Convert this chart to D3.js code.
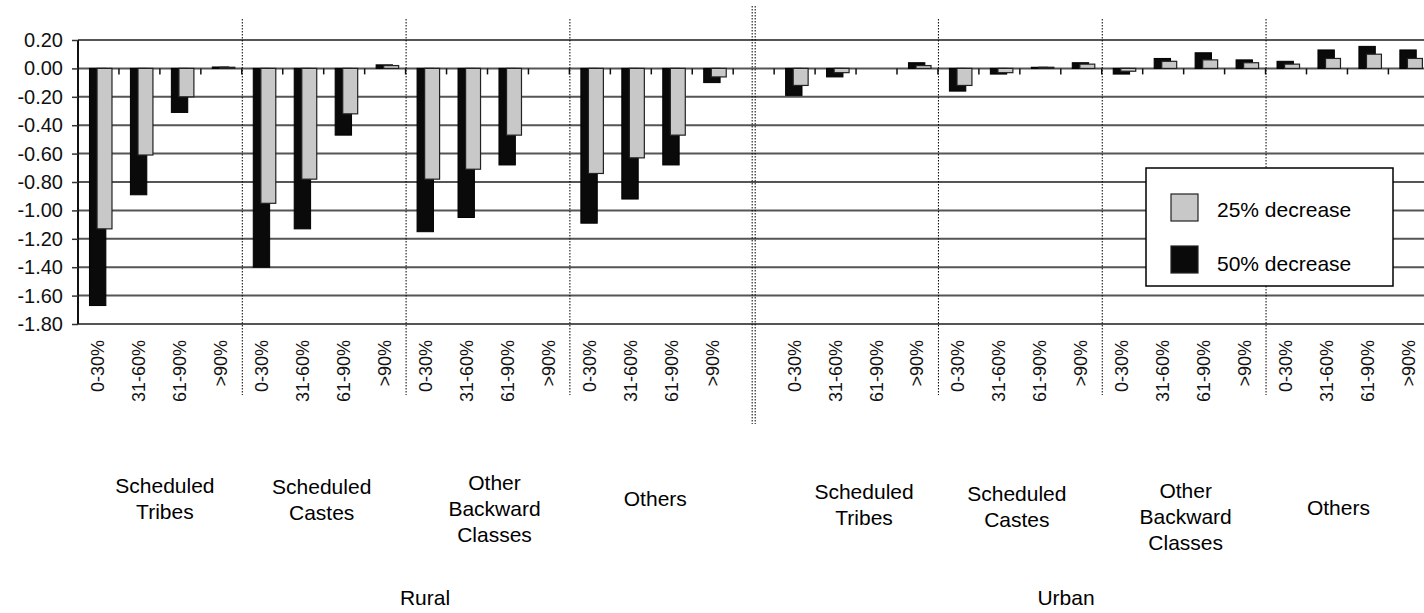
<!DOCTYPE html>
<html>
<head>
<meta charset="utf-8">
<script src="https://cdn.jsdelivr.net/npm/d3@7/dist/d3.min.js"></script>
<style>
  html, body { margin: 0; padding: 0; background: #ffffff; }
  svg { display: block; font-family: "Liberation Sans", Arial, sans-serif; }
</style>
</head>
<body>
<svg id="chart" width="1424" height="613"></svg>
<script>
// ---------------- data ----------------
const areas = ["Rural", "Urban"];
const groups = ["Scheduled Tribes", "Scheduled Castes", "Other Backward Classes", "Others"];
const groupLines = [["Scheduled", "Tribes"], ["Scheduled", "Castes"], ["Other", "Backward", "Classes"], ["Others"]];
const ranges = ["0-30%", "31-60%", "61-90%", ">90%"];
const seriesNames = ["25% decrease", "50% decrease"];

// values in order: Rural ST, SC, OBC, Others (4 ranges each), then Urban ST, SC, OBC, Others
const decrease25 = [
  -1.13, -0.61, -0.20, 0.008,
  -0.95, -0.78, -0.32, 0.02,
  -0.78, -0.71, -0.47, 0.00,
  -0.74, -0.63, -0.47, -0.06,
  -0.12, -0.03, 0.00, 0.02,
  -0.12, -0.03, 0.008, 0.03,
  -0.02, 0.05, 0.06, 0.04,
  0.03, 0.07, 0.10, 0.07
];
const decrease50 = [
  -1.67, -0.89, -0.31, 0.01,
  -1.40, -1.13, -0.47, 0.025,
  -1.15, -1.05, -0.68, 0.00,
  -1.09, -0.92, -0.68, -0.10,
  -0.19, -0.06, 0.00, 0.04,
  -0.16, -0.04, 0.008, 0.04,
  -0.04, 0.07, 0.11, 0.06,
  0.05, 0.13, 0.155, 0.13
];
const yTicks = [0.20, 0.00, -0.20, -0.40, -0.60, -0.80, -1.00, -1.20, -1.40, -1.60, -1.80];

// ---------------- build slots ----------------
const slots = [];
let vi = 0;
areas.forEach((area, ai) => {
  groups.forEach((g, gi) => {
    ranges.forEach((r) => {
      slots.push({ key: area + "|" + g + "|" + r, area, group: g, gi, range: r, v25: decrease25[vi], v50: decrease50[vi] });
      vi++;
    });
  });
  if (ai === 0) slots.push({ key: "gap", area: null, range: "" });
});

// ---------------- layout ----------------
const svg = d3.select("#chart");
const x = d3.scaleBand().domain(slots.map(d => d.key)).range([78, 78 + 33 * 40.95]).padding(0);
const y = d3.scaleLinear().domain([-1.8, 0.2]).range([324, 40]);
const bw = x.bandwidth();

// gridlines
svg.append("g").selectAll("line").data(yTicks).join("line")
  .attr("x1", 78).attr("x2", 1424)
  .attr("y1", d => y(d)).attr("y2", d => y(d))
  .attr("stroke", "#555").attr("stroke-width", 2);

// y axis
const yAxis = d3.axisLeft(y).tickValues(yTicks).tickSize(6).tickPadding(9)
  .tickFormat(d => d3.format(".2f")(d).replace("−", "-"));
const ya = svg.append("g").attr("transform", "translate(78,0)").call(yAxis);
ya.select(".domain").attr("stroke", "#111").attr("stroke-width", 2).attr("d", "M0," + y(0.2) + "V" + y(-1.8));
ya.selectAll(".tick line").attr("stroke", "#333").attr("stroke-width", 1.5);
ya.selectAll(".tick text").attr("font-size", 20).attr("fill", "#111")
  .attr("font-family", "'Liberation Sans', Arial, sans-serif");

// x ticks on zero line at slot boundaries
const boundaries = slots.map(d => x(d.key)).concat([x(slots[slots.length - 1].key) + bw]);
svg.append("g").selectAll("line").data(boundaries.slice(1)).join("line")
  .attr("x1", d => d).attr("x2", d => d)
  .attr("y1", y(0)).attr("y2", y(0) + 6)
  .attr("stroke", "#111").attr("stroke-width", 1.5);

// vertical dotted separators between groups
const sepKeys = [];
slots.forEach((d, i) => { if (d.area && d.range === "0-30%" && d.gi > 0) sepKeys.push(d.key); });
svg.append("g").selectAll("line").data(sepKeys).join("line")
  .attr("x1", d => x(d.key === undefined ? d : d) + 0.5)
  .attr("x2", d => x(d) + 0.5)
  .attr("y1", 19).attr("y2", 395)
  .attr("stroke", "#000").attr("stroke-width", 1).attr("stroke-dasharray", "1.5,1.5");

// double dotted line between Rural and Urban
const gapX = x("gap") + bw / 2;
[-1.5, 1.5].forEach(off => {
  svg.append("line")
    .attr("x1", gapX + off).attr("x2", gapX + off)
    .attr("y1", 6).attr("y2", 424)
    .attr("stroke", "#000").attr("stroke-width", 1).attr("stroke-dasharray", "1.5,1.5");
});

// bars: 50% (black) behind, 25% (gray) in front
const dataSlots = slots.filter(d => d.area);
svg.append("g").selectAll("rect").data(dataSlots).join("rect")
  .attr("x", d => x(d.key) + bw * 0.28)
  .attr("width", bw * 0.40)
  .attr("y", d => y(Math.max(0, d.v50)))
  .attr("height", d => Math.abs(y(d.v50) - y(0)))
  .attr("fill", "#0a0a0a").attr("stroke", "#000").attr("stroke-width", 1);

svg.append("g").selectAll("rect").data(dataSlots).join("rect")
  .attr("x", d => x(d.key) + bw * 0.465)
  .attr("width", bw * 0.365)
  .attr("y", d => y(Math.max(0, d.v25)))
  .attr("height", d => Math.abs(y(d.v25) - y(0)))
  .attr("fill", "#c8c8c8").attr("stroke", "#222").attr("stroke-width", 1.2);

// x tick labels (rotated)
svg.append("g").selectAll("text").data(dataSlots).join("text")
  .attr("transform", d => "translate(" + (x(d.key) + bw / 2) + ",340) rotate(-90)")
  .attr("text-anchor", "end").attr("dominant-baseline", "central")
  .attr("font-size", 18).attr("fill", "#111")
  .text(d => d.range);

// group labels
const groupDx = [[5, -2, 7, 4], [8, -3, 2, -9]];
const groupCy = [[498, 499, 508, 498], [504, 506, 516, 507]];
const lineH = 26;
areas.forEach((area, ai) => {
  groups.forEach((g, gi) => {
    const first = slots.find(s => s.area === area && s.group === g && s.range === ranges[0]);
    const last = slots.find(s => s.area === area && s.group === g && s.range === ranges[ranges.length - 1]);
    const cx = (x(first.key) + x(last.key) + bw) / 2 + groupDx[ai][gi];
    const lines = groupLines[gi];
    const top = groupCy[ai][gi] - (lines.length - 1) * lineH / 2;
    const t = svg.append("text").attr("text-anchor", "middle").attr("font-size", 21).attr("fill", "#000");
    lines.forEach((ln, li) => {
      t.append("tspan").attr("x", cx).attr("y", top + li * lineH).attr("dominant-baseline", "central").text(ln);
    });
  });
});

// area labels
const areaX = [425, 1066];
areas.forEach((a, ai) => {
  svg.append("text").attr("x", areaX[ai]).attr("y", 597)
    .attr("text-anchor", "middle").attr("dominant-baseline", "central")
    .attr("font-size", 21).attr("fill", "#000").text(a);
});

// legend
const lg = svg.append("g").attr("transform", "translate(1146,168)");
lg.append("rect").attr("width", 247).attr("height", 118)
  .attr("fill", "#fff").attr("stroke", "#000").attr("stroke-width", 1.5);
const legendFill = ["#c8c8c8", "#0a0a0a"];
seriesNames.forEach((s, i) => {
  lg.append("rect").attr("x", 25).attr("y", 26 + i * 52).attr("width", 27).attr("height", 27)
    .attr("fill", legendFill[i]).attr("stroke", "#222").attr("stroke-width", 1.2);
  lg.append("text").attr("x", 71).attr("y", 41 + i * 54)
    .attr("dominant-baseline", "central").attr("font-size", 21).attr("fill", "#000").text(s);
});
</script>
</body>
</html>
